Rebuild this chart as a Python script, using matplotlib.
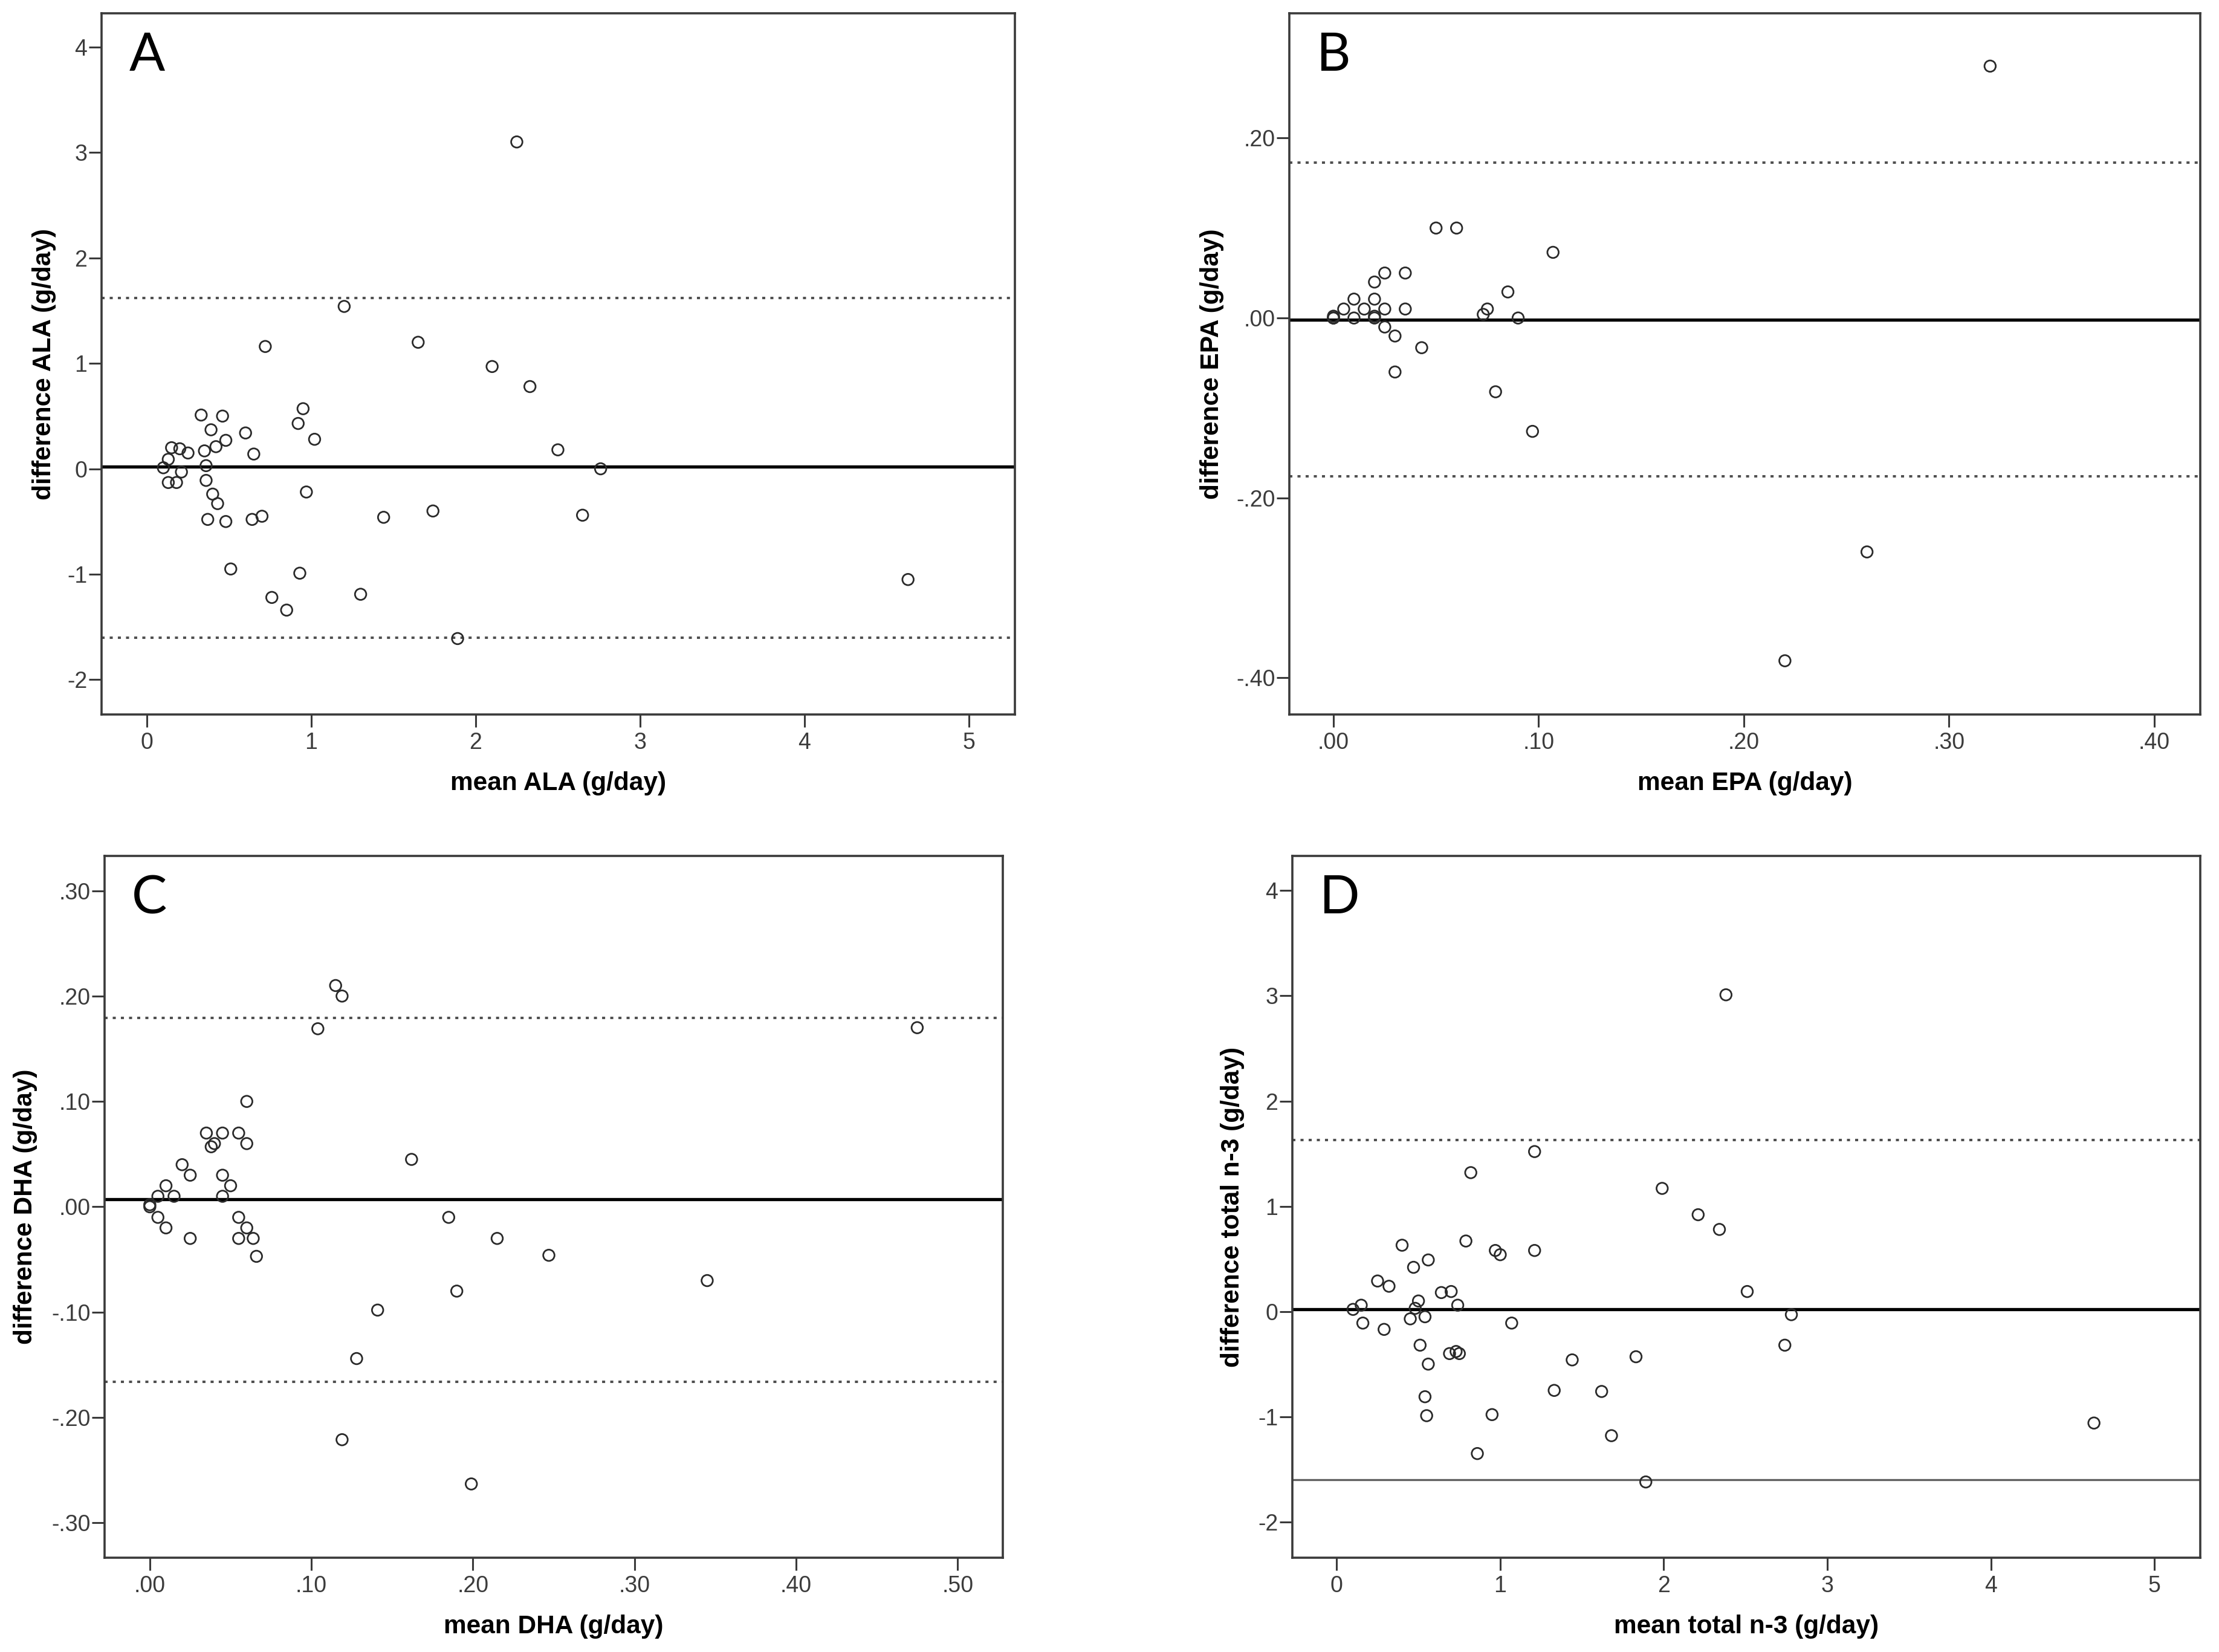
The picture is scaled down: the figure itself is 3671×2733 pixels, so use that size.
import matplotlib
matplotlib.use("Agg")
import matplotlib.pyplot as plt
from matplotlib import font_manager
from matplotlib.ticker import FuncFormatter

plt.rcParams["axes.unicode_minus"] = False

# panel A: ALA
ala_mean = [0.10, 0.13, 0.15, 0.20, 0.25, 0.13, 0.18, 0.21, 0.33, 0.35, 0.36, 0.36, 0.37,
            0.39, 0.40, 0.43, 0.42, 0.46, 0.48, 0.48, 0.51, 0.60, 0.64, 0.65, 0.70, 0.72,
            0.76, 0.85, 0.92, 0.93, 0.95, 0.97, 1.02, 1.20, 1.30, 1.44, 1.65, 1.74, 1.89,
            2.10, 2.25, 2.33, 2.50, 2.65, 2.76, 4.63]
ala_diff = [0.01, 0.09, 0.20, 0.19, 0.15, -0.13, -0.13, -0.03, 0.51, 0.17, 0.03, -0.11, -0.48,
            0.37, -0.24, -0.33, 0.21, 0.50, 0.27, -0.50, -0.95, 0.34, -0.48, 0.14, -0.45, 1.16,
            -1.22, -1.34, 0.43, -0.99, 0.57, -0.22, 0.28, 1.54, -1.19, -0.46, 1.20, -0.40, -1.61,
            0.97, 3.10, 0.78, 0.18, -0.44, 0.00, -1.05]
ala_lines = [0.02, 1.62, -1.60]

# panel B: EPA
epa_mean = [0.000, 0.000, 0.000, 0.005, 0.010, 0.010, 0.015, 0.020, 0.020, 0.020, 0.020,
            0.025, 0.025, 0.025, 0.030, 0.030, 0.035, 0.035, 0.043, 0.050, 0.060, 0.073,
            0.075, 0.079, 0.085, 0.090, 0.097, 0.107, 0.220, 0.260, 0.320]
epa_diff = [0.000, 0.000, 0.002, 0.010, 0.021, 0.000, 0.010, 0.040, 0.021, 0.002, 0.000,
            0.050, 0.010, -0.010, -0.020, -0.060, 0.050, 0.010, -0.033, 0.100, 0.100, 0.004,
            0.010, -0.082, 0.029, 0.000, -0.126, 0.073, -0.381, -0.260, 0.280]
epa_lines = [-0.002, 0.173, -0.176]

# panel C: DHA
dha_mean = [0.000, 0.000, 0.005, 0.005, 0.010, 0.010, 0.015, 0.020, 0.025, 0.025, 0.035,
            0.038, 0.040, 0.045, 0.045, 0.045, 0.050, 0.055, 0.055, 0.055, 0.060, 0.060,
            0.060, 0.064, 0.066, 0.104, 0.115, 0.119, 0.119, 0.128, 0.141, 0.162, 0.185,
            0.190, 0.199, 0.215, 0.247, 0.345, 0.475]
dha_diff = [0.000, 0.002, 0.010, -0.010, 0.020, -0.020, 0.010, 0.040, 0.030, -0.030, 0.070,
            0.057, 0.060, 0.070, 0.030, 0.010, 0.020, 0.070, -0.010, -0.030, 0.100, 0.060,
            -0.020, -0.030, -0.047, 0.169, 0.210, 0.200, -0.221, -0.144, -0.098, 0.045, -0.010,
            -0.080, -0.263, -0.030, -0.046, -0.070, 0.170]
dha_lines = [0.007, 0.179, -0.166]

# panel D: total n-3
n3_mean = [0.10, 0.15, 0.16, 0.25, 0.29, 0.32, 0.40, 0.45, 0.47, 0.48, 0.50, 0.51, 0.54,
           0.54, 0.55, 0.56, 0.56, 0.64, 0.69, 0.70, 0.73, 0.74, 0.75, 0.79, 0.82, 0.86,
           0.95, 0.97, 1.00, 1.07, 1.21, 1.21, 1.33, 1.44, 1.62, 1.68, 1.83, 1.89, 1.99,
           2.21, 2.34, 2.38, 2.51, 2.74, 2.78, 4.63]
n3_diff = [0.02, 0.06, -0.11, 0.29, -0.17, 0.24, 0.63, -0.07, 0.42, 0.03, 0.10, -0.32, -0.05,
           -0.81, -0.99, 0.49, -0.50, 0.18, -0.40, 0.19, -0.38, 0.06, -0.40, 0.67, 1.32, -1.35,
           -0.98, 0.58, 0.54, -0.11, 0.58, 1.52, -0.75, -0.46, -0.76, -1.18, -0.43, -1.62, 1.17,
           0.92, 0.78, 3.01, 0.19, -0.32, -0.03, -1.06]
n3_lines = [0.02, 1.63, -1.60]

names = [f.name for f in font_manager.fontManager.ttflist]
tick_font = "Liberation Sans Narrow" if "Liberation Sans Narrow" in names else "Liberation Sans"

DOT = (0, (1.25, 2.1))


def spss_fmt(v, pos):
    s = f"{v:.2f}"
    return s.replace("0.", ".", 1)


def panel(ax, x, y, lines, letter, xlab, ylab, xlim, ylim, xticks, yticks, fmt,
          ylab_x, solid_low=False):
    ax.axhline(lines[0], color="black", lw=3.8, zorder=2)
    ax.axhline(lines[1], color="#505050", lw=2.9, ls=DOT, zorder=2)
    if solid_low:
        ax.axhline(lines[2], color="#606060", lw=2.4, zorder=2)
    else:
        ax.axhline(lines[2], color="#505050", lw=2.9, ls=DOT, zorder=2)
    ax.scatter(x, y, s=180, facecolors="none", edgecolors="#2a2a2a", linewidths=2.0, zorder=3)
    ax.set_xlim(xlim)
    ax.set_ylim(ylim)
    ax.set_xticks(xticks)
    ax.set_yticks(yticks)
    if fmt:
        ax.xaxis.set_major_formatter(FuncFormatter(spss_fmt))
        ax.yaxis.set_major_formatter(FuncFormatter(spss_fmt))
    ax.tick_params(direction="out", length=15, width=2.2, color="#3a3a3a",
                   labelsize=27, labelcolor="#3c3c3c")
    ax.tick_params(axis="x", pad=6)
    ax.tick_params(axis="y", pad=2)
    for lab in ax.get_xticklabels() + ax.get_yticklabels():
        lab.set_family(tick_font)
    for sp in ax.spines.values():
        sp.set_linewidth(2.6)
        sp.set_color("#3a3a3a")
    ax.set_xlabel(xlab, fontsize=30.5, fontweight="bold", family="Liberation Sans")
    ax.set_ylabel(ylab, fontsize=30.5, fontweight="bold", family="Liberation Sans")
    ax.xaxis.label.set_va("center")
    ax.yaxis.label.set_va("center")
    ax.xaxis.set_label_coords(0.5, -0.098)
    ax.yaxis.set_label_coords(ylab_x, 0.5)
    ax.text(0.030, 0.918, letter, transform=ax.transAxes, fontsize=63, family="Lato",
            va="baseline", ha="left")


fig = plt.figure(figsize=(36.71, 27.33), dpi=100)
axA = fig.add_axes([0.04576, 0.56751, 0.41160, 0.42444])
axB = fig.add_axes([0.58104, 0.56751, 0.41051, 0.42444])
axC = fig.add_axes([0.04713, 0.05708, 0.40480, 0.42481])
axD = fig.add_axes([0.58240, 0.05708, 0.40916, 0.42481])

panel(axA, ala_mean, ala_diff, ala_lines, "A", "mean ALA (g/day)", "difference ALA (g/day)",
      (-0.276, 5.28), (-2.33, 4.32), [0, 1, 2, 3, 4, 5], [-2, -1, 0, 1, 2, 3, 4], False, -0.063)
panel(axB, epa_mean, epa_diff, epa_lines, "B", "mean EPA (g/day)", "difference EPA (g/day)",
      (-0.0215, 0.4224), (-0.4407, 0.3387), [0, 0.1, 0.2, 0.3, 0.4], [-0.4, -0.2, 0.0, 0.2],
      True, -0.085)
panel(axC, dha_mean, dha_diff, dha_lines, "C", "mean DHA (g/day)", "difference DHA (g/day)",
      (-0.028, 0.528), (-0.333, 0.333), [0, 0.1, 0.2, 0.3, 0.4, 0.5],
      [-0.3, -0.2, -0.1, 0.0, 0.1, 0.2, 0.3], True, -0.088)
panel(axD, n3_mean, n3_diff, n3_lines, "D", "mean total n-3 (g/day)", "difference total n-3 (g/day)",
      (-0.271, 5.28), (-2.34, 4.33), [0, 1, 2, 3, 4, 5], [-2, -1, 0, 1, 2, 3, 4], False, -0.066,
      solid_low=True)

fig.savefig("out.png", dpi=100, facecolor="white")
